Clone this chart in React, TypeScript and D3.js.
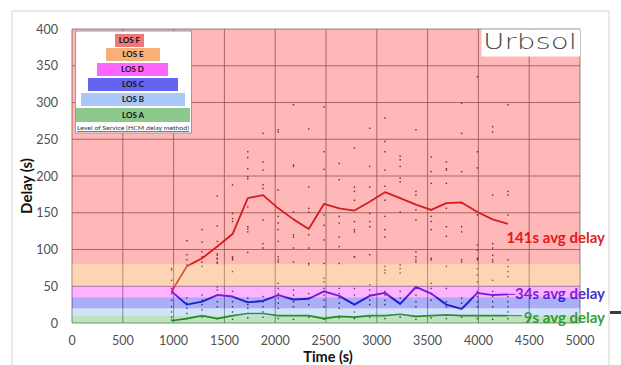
import React from "react";
import * as d3 from "d3";

const xTicks = [0, 500, 1000, 1500, 2000, 2500, 3000, 3500, 4000, 4500, 5000];
const yTicks = [0, 50, 100, 150, 200, 250, 300, 350, 400];

const times = [980, 1130, 1280, 1430, 1580, 1730, 1880, 2030, 2180, 2330, 2480, 2630, 2780, 2930, 3080, 3230, 3385, 3535, 3685, 3835, 3990, 4140, 4290];
const avgLosF = [43, 77, 88, 104, 121, 170, 174, 156, 141, 128, 162, 156, 153, 165, 178, 170, 161, 154, 163, 164, 151, 141, 135];
const avgLosMid = [43, 25, 29, 38, 36, 28, 30, 38, 32, 33, 43, 37, 25, 37, 41, 26, 49, 40, 25, 19, 41, 38, 39];
const avgLosLow = [3, 6, 10, 6, 10, 13, 13, 10, 10, 10, 6, 9, 8, 10, 10, 12, 9, 10, 11, 10, 10, 10, 10];

const dotsUpper = [
  [],
  [112, 93, 86],
  [127, 110, 97],
  [173, 132, 111, 94, 87, 81],
  [188, 149, 142, 138, 90, 86],
  [233, 225, 210, 199, 196, 158, 131, 128, 124, 96],
  [258, 219, 208, 188, 183, 140, 108, 102],
  [263, 260, 181, 145, 136, 127, 111, 86],
  [297, 215, 213, 151, 120, 117, 102],
  [264, 185, 156, 151, 120, 102, 81],
  [294, 233, 209, 147, 133, 113, 81],
  [217, 195, 145, 136, 117, 104, 81],
  [238, 185, 179, 167, 138, 127, 124, 90],
  [265, 213, 185, 149, 138, 131, 93],
  [279, 247, 233, 208, 186, 167, 145, 127, 117],
  [227, 222, 213, 197, 192, 151, 79],
  [263, 179, 174, 154, 140, 97, 86],
  [226, 206, 190, 154, 145, 138, 127, 86],
  [219, 210, 208, 190, 156, 131, 118],
  [299, 258, 206, 163, 131, 124, 86],
  [335, 233, 211, 147, 106, 99, 88],
  [267, 260, 174, 108, 102, 86],
  [297, 179, 174, 147, 86],
];
const dotsLower = [
  [74, 72, 58, 47, 40, 31, 22, 15, 8, 4],
  [79, 34, 27, 20, 13, 6],
  [90, 83, 77, 38, 31, 25, 18, 8],
  [92, 88, 83, 49, 45, 38, 29, 22, 6],
  [88, 70, 43, 36, 29, 22, 15, 5],
  [34, 29, 25, 20, 13, 7],
  [36, 29, 22, 15, 8],
  [90, 83, 54, 47, 40, 34, 27, 20, 6],
  [83, 45, 38, 29, 22, 5],
  [79, 40, 34, 25, 8],
  [61, 56, 47, 43, 38, 31, 22, 5],
  [47, 40, 34, 27, 20, 7],
  [90, 47, 38, 25, 15, 6],
  [52, 45, 38, 31, 25, 8],
  [77, 72, 68, 43, 38, 31, 25, 6],
  [74, 68, 43, 34, 27, 8],
  [90, 83, 47, 38, 29, 22, 5],
  [88, 54, 47, 40, 31, 7],
  [77, 47, 29, 22, 6],
  [83, 34, 27, 20, 8],
  [86, 74, 65, 56, 43, 36, 29, 22, 6],
  [92, 83, 58, 43, 36, 29, 22, 5],
  [77, 70, 63, 36, 29, 22, 15, 6],
];

const losNames = ["LOS A", "LOS B", "LOS C", "LOS D", "LOS E", "LOS F"];
const losLower = [0, 10, 20, 35, 50, 80];
const losUpper = [10, 20, 35, 50, 80, 400];
const bandFills = [
  "rgba(0,140,0,0.25)",
  "rgba(80,150,240,0.27)",
  "rgba(0,0,230,0.32)",
  "rgba(255,0,255,0.3)",
  "rgba(247,150,70,0.4)",
  "rgba(255,0,0,0.28)",
];
const legendFills = ["#8CC88C", "#AAC8F5", "#6464F0", "#FF66FF", "#F7B078", "#F07878"];

const seriesLabels = ["141s avg delay", "34s avg delay", "9s avg delay"];

export default function App() {
  const W = 621, H = 365;
  const x = d3.scaleLinear().domain([0, 5000]).range([72, 580]);
  const y = d3.scaleLinear().domain([0, 400]).range([323, 29]);
  const line = d3
    .line<number>()
    .x((_, i) => x(times[i]))
    .y((d) => y(d));

  const tickFont = "Lato, 'Open Sans', sans-serif";
  const lastX = x(times[times.length - 1]);

  const legendRows = [
    { x0: 76, x1: 190, y0: 108, h: 14 },
    { x0: 81, x1: 185, y0: 93, h: 13 },
    { x0: 88, x1: 178, y0: 78, h: 13 },
    { x0: 97, x1: 168, y0: 63, h: 13 },
    { x0: 106, x1: 160, y0: 48, h: 13 },
    { x0: 115, x1: 144, y0: 34, h: 13 },
  ];

  return (
    <svg width={W} height={H} style={{ position: "absolute", left: 0, top: 0, background: "#fff" }}>
      <rect x={12} y={11} width={597} height={370} fill="none" stroke="#d4d4d4" strokeWidth={1} />
      <rect x={610} y={311} width={11} height={3} fill="#3c3c3c" />

      <g stroke="#7f7f7f" strokeWidth={0.9}>
        {yTicks.map((t) => (
          <line key={"gy" + t} x1={x(0)} x2={x(5000)} y1={y(t)} y2={y(t)} />
        ))}
        {xTicks.map((t) => (
          <line key={"gx" + t} x1={x(t)} x2={x(t)} y1={y(0)} y2={y(400)} />
        ))}
      </g>

      <g fill="#3a3a3a">
        {times.map((t, i) =>
          [...dotsUpper[i], ...dotsLower[i]].map((v, j) => (
            <rect key={"d" + i + "_" + j} x={x(t) - 0.7} y={y(v) - 0.7} width={1.4} height={1.4} />
          ))
        )}
      </g>

      <path d={line(avgLosF) || ""} fill="none" stroke="#C82828" strokeWidth={1.8} strokeLinejoin="round" />
      <path d={line(avgLosMid) || ""} fill="none" stroke="#2E2EC8" strokeWidth={1.9} strokeLinejoin="round" />
      <path d={line(avgLosLow) || ""} fill="none" stroke="#2A8A2A" strokeWidth={1.6} strokeLinejoin="round" />
      <line x1={lastX} x2={515} y1={y(avgLosMid[avgLosMid.length - 1])} y2={y(avgLosMid[avgLosMid.length - 1])} stroke="#2E2EC8" strokeWidth={1} />
      <line x1={lastX} x2={522} y1={y(avgLosLow[avgLosLow.length - 1])} y2={y(avgLosLow[avgLosLow.length - 1])} stroke="#2A8A2A" strokeWidth={1} />

      <g fontFamily={tickFont} fontWeight={700} fontSize={15} textAnchor="end">
        <text x={605} y={243} fill="#DC2626">{seriesLabels[0]}</text>
        <text x={605} y={299} fill="#4433CC">{seriesLabels[1]}</text>
        <text x={605} y={323} fill="#3A9E3A">{seriesLabels[2]}</text>
      </g>

      {losNames.map((n, i) => (
        <rect
          key={"band" + n}
          x={x(0)}
          width={x(5000) - x(0)}
          y={y(losUpper[i])}
          height={y(losLower[i]) - y(losUpper[i])}
          fill={bandFills[i]}
        />
      ))}

      <rect x={75.5} y={31} width={116} height={102} fill="#fff" stroke="#9a9a9a" strokeWidth={1} />
      {legendRows.map((r, i) => (
        <g key={"lg" + i}>
          <rect x={r.x0} y={r.y0} width={r.x1 - r.x0} height={r.h} fill={legendFills[i]} />
          <text
            x={(r.x0 + r.x1) / 2}
            y={r.y0 + r.h / 2 + 2.8}
            textAnchor="middle"
            fontFamily={tickFont}
            fontWeight={700}
            fontSize={8}
            fill="#111"
          >
            {losNames[i]}
          </text>
        </g>
      ))}
      <text
        x={133}
        y={130}
        textAnchor="middle"
        fontFamily={tickFont}
        fontSize={6.3}
        fill="#333"
        textDecoration="underline"
        textLength={112}
        lengthAdjust="spacingAndGlyphs"
      >
        Level of Service (HCM delay method)
      </text>

      <rect x={481.5} y={29.5} width={98.5} height={27} fill="#fff" />
      <text
        x={483}
        y={48.5}
        fontFamily="'DejaVu Sans', sans-serif"
        fontWeight={300}
        fontSize={21}
        fill="#4a4a4a"
        textLength={94}
        lengthAdjust="spacingAndGlyphs"
      >
        Urbsol
      </text>

      <g fontFamily={tickFont} fontSize={12.5} fill="#505050">
        {yTicks.map((t) => (
          <text key={"ty" + t} x={58} y={y(t) + 4.5} textAnchor="end">
            {t}
          </text>
        ))}
        {xTicks.map((t) => (
          <text key={"tx" + t} x={x(t)} y={345} textAnchor="middle">
            {t}
          </text>
        ))}
      </g>

      <text x={328} y={362} textAnchor="middle" fontFamily={tickFont} fontWeight={700} fontSize={14.5} fill="#111">
        Time (s)
      </text>
      <text
        transform="translate(32,186) rotate(-90)"
        textAnchor="middle"
        fontFamily={tickFont}
        fontWeight={700}
        fontSize={15}
        fill="#111"
      >
        Delay (s)
      </text>
    </svg>
  );
}
